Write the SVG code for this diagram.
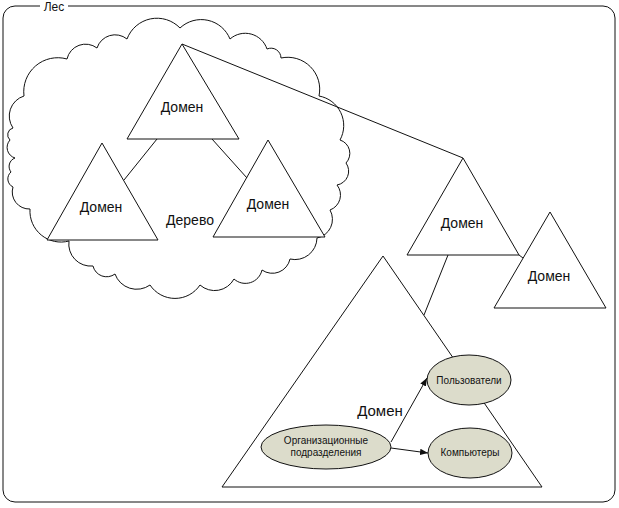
<svg xmlns="http://www.w3.org/2000/svg" width="619" height="508" viewBox="0 0 619 508">
<defs>
<style>
.ln{fill:none;stroke:#111;stroke-width:1}
.tri{fill:#fff;stroke:#111;stroke-width:1}
.ell{fill:#dcdccb;stroke:#111;stroke-width:1}
.t{font-family:"Liberation Sans",Arial,sans-serif;fill:#111;text-anchor:middle}
.big{font-size:14px}
.sm{font-size:10px}
</style>
<marker id="ah" viewBox="0 0 10 10" refX="10" refY="5" markerWidth="8" markerHeight="8" markerUnits="userSpaceOnUse" orient="auto">
<path d="M0,1 L10,5 L0,9 Z" fill="#111"/>
</marker>
</defs>
<rect width="619" height="508" fill="#fff"/>
<g id="forest">
<path class="ln" d="M40 6 H15 A12 12 0 0 0 3 18 V490 A12 12 0 0 0 15 502 H603 A12 12 0 0 0 615 490 V18 A12 12 0 0 0 603 6 H68"/>
<text class="t" x="54" y="10.5" font-size="12">Лес</text>
</g>
<g id="tree">
<path class="tri" d="M13 128 A21 21 0 0 1 24 96 A34 34 0 0 1 67 59 A19 19 0 0 1 97 48 A19 19 0 0 1 127 39 A32 32 0 0 1 180 28 A31 31 0 0 1 230 39 A23 23 0 0 1 267 49 A10 10 0 0 1 281 58 A32 32 0 0 1 319 96 A30 30 0 0 1 340 140 A14 14 0 0 1 346 163 A14 14 0 0 1 337 185 A16 16 0 0 1 330 210 A19 19 0 0 1 317 238 A22 22 0 0 1 290 259 A18 18 0 0 1 262 270 A17 17 0 0 1 234 279 A22 22 0 0 1 200 285 A30 30 0 0 1 150 285 A23 23 0 0 1 115 274 A14 14 0 0 1 93 266 A22 22 0 0 1 69 241 A31 31 0 0 1 30 209 A17 17 0 0 1 13 187 A9 9 0 0 1 11 172 A9 9 0 0 1 15 158 A11 11 0 0 1 10 140 A7 7 0 0 1 13 128 Z"/>
<text class="t big" x="190" y="225">Дерево</text>
</g>
<g id="domain-root">
<polygon class="tri" points="182,44 127,139 239,139"/>
<text class="t big" x="182" y="112">Домен</text>
</g>
<g id="domain-left">
<polygon class="tri" points="102,143 47,240 158,240"/>
<text class="t big" x="101" y="212">Домен</text>
</g>
<g id="domain-right">
<polygon class="tri" points="268,140 213,237 325,237"/>
<text class="t big" x="268" y="209">Домен</text>
</g>
<g id="domain-2">
<polygon class="tri" points="463,158 407,255 519,255"/>
<text class="t big" x="462" y="228">Домен</text>
</g>
<g id="domain-3">
<polygon class="tri" points="550,212 494,308 606,308"/>
<text class="t big" x="549" y="281">Домен</text>
</g>
<g id="domain-big">
<polygon class="tri" points="383,256 222,487 542,487"/>
<text class="t" x="380" y="416" font-size="15">Домен</text>
</g>
<g id="ou">
<ellipse class="ell" cx="326" cy="447" rx="65" ry="22"/>
<text class="t sm" x="326" y="444">Организационные</text>
<text class="t sm" x="326" y="455.5">подразделения</text>
</g>
<g id="users">
<ellipse class="ell" cx="469" cy="380" rx="42" ry="25"/>
<text class="t sm" x="469" y="383.5">Пользователи</text>
</g>
<g id="computers">
<ellipse class="ell" cx="470" cy="453" rx="42" ry="25"/>
<text class="t sm" x="470" y="456">Компьютеры</text>
</g>
<g id="connectors">
<line class="ln" x1="182" y1="44" x2="463" y2="158"/>
<line class="ln" x1="157" y1="139" x2="124" y2="180"/>
<line class="ln" x1="212" y1="139" x2="247" y2="178"/>
<line class="ln" x1="448" y1="255" x2="424" y2="315"/>
<line class="ln" x1="519" y1="255" x2="523" y2="258"/>
<line class="ln" x1="391" y1="442" x2="427" y2="378" marker-end="url(#ah)"/>
<line class="ln" x1="391" y1="448" x2="428" y2="453" marker-end="url(#ah)"/>
</g>
</svg>
